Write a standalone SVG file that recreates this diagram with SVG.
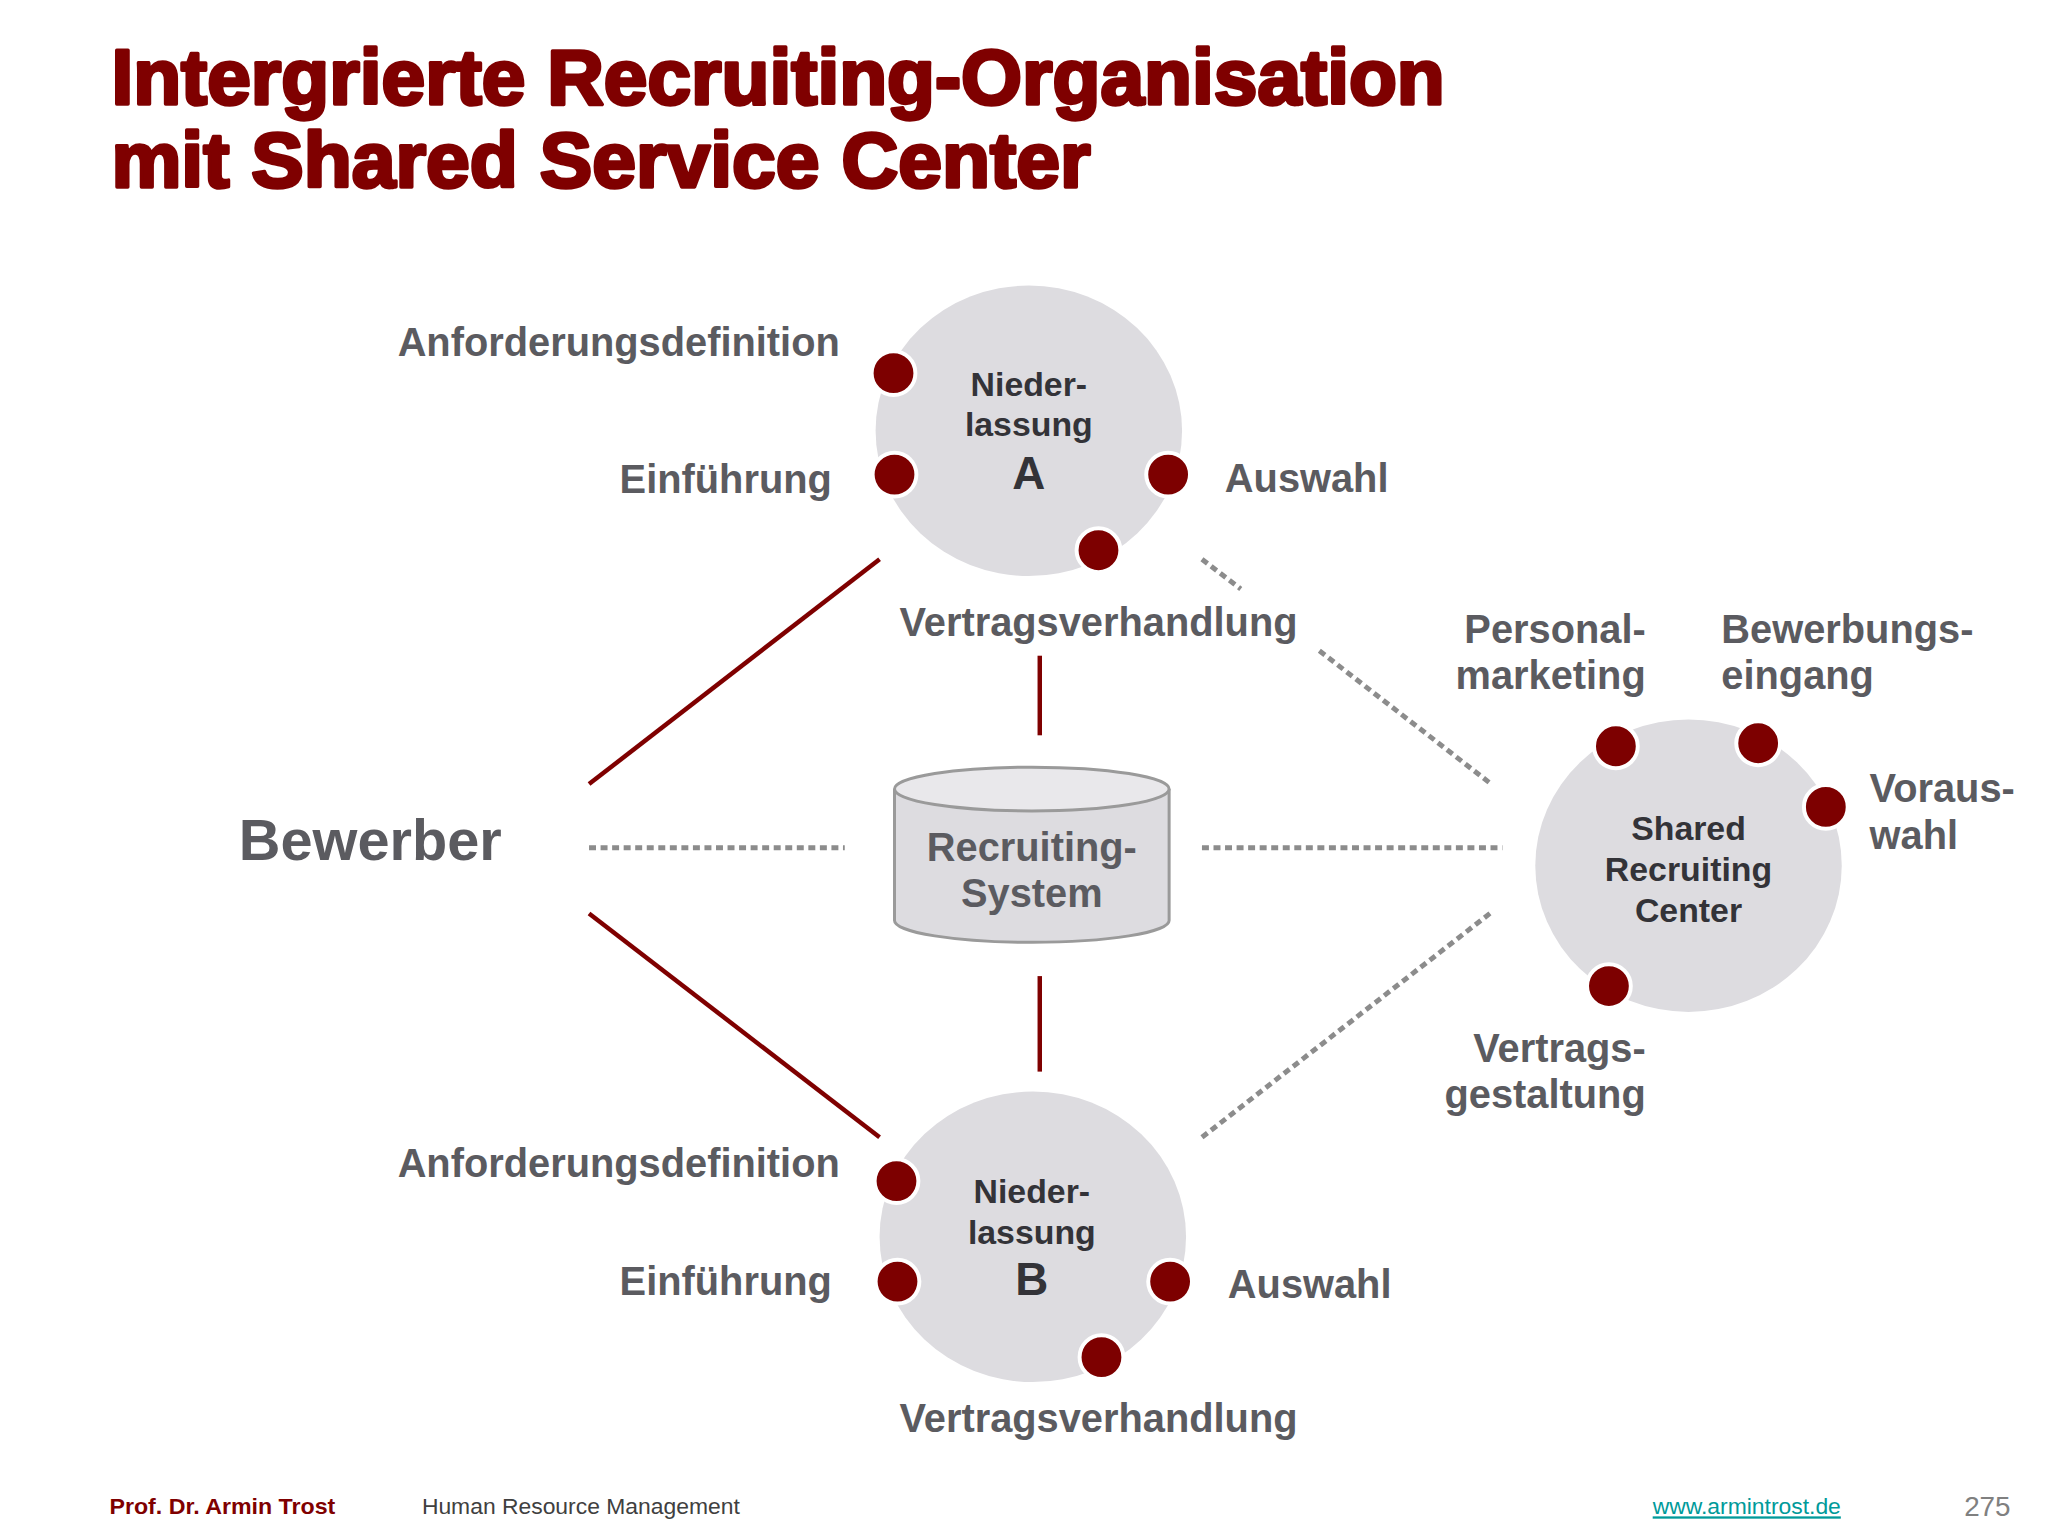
<svg xmlns="http://www.w3.org/2000/svg" width="2048" height="1536" viewBox="0 0 2048 1536">
<style>
.title{font-family:"Liberation Sans",Arial,sans-serif;font-weight:bold;font-size:79px;fill:#7f0000;stroke:#7f0000;stroke-width:3.5;stroke-linejoin:round}
.lbl{font-family:"Liberation Sans",Arial,sans-serif;font-weight:bold;font-size:40px;fill:#5b5b60}
.inner{font-family:"Liberation Sans",Arial,sans-serif;font-weight:bold;font-size:34px;fill:#333338;text-anchor:middle}
.big{font-size:46px}
.node{fill:#dddce0}
.dot{fill:#7d0000;stroke:#ffffff;stroke-width:4}
.solid{stroke:#7f0000;stroke-width:4.5;fill:none}
.dotted{stroke:#8c8c8c;stroke-width:5;stroke-dasharray:7 4.6;fill:none}
.foot{font-family:"Liberation Sans",Arial,sans-serif;font-size:23px}
</style>
<rect width="2048" height="1536" fill="#ffffff"/>
<g transform="scale(0.995)">
<g id="title">
<text class="title" x="112" y="105" textLength="1340" lengthAdjust="spacingAndGlyphs">Intergrierte Recruiting-Organisation</text>
<text class="title" x="112" y="188" textLength="984" lengthAdjust="spacingAndGlyphs">mit Shared Service Center</text>
</g>
<g id="connectors">
<line class="solid" x1="592" y1="788" x2="884" y2="562"/>
<line class="solid" x1="592" y1="918" x2="884" y2="1143"/>
<line class="solid" x1="1045" y1="659" x2="1045" y2="739"/>
<line class="solid" x1="1045" y1="981" x2="1045" y2="1077"/>
<line class="dotted" x1="592" y1="852" x2="849" y2="852"/>
<line class="dotted" x1="1208" y1="852" x2="1510" y2="852"/>
<line class="dotted" x1="1208" y1="562" x2="1247" y2="592"/>
<line class="dotted" x1="1326" y1="654" x2="1500" y2="789"/>
<line class="dotted" x1="1208" y1="1143" x2="1500" y2="916"/>
</g>
<g id="bewerber">
<text class="lbl" x="240" y="864" style="font-size:58px">Bewerber</text>
</g>
<g id="recruiting-system">
<path d="M899,793 L899,925 A138,22 0 0 0 1175,925 L1175,793" fill="#dddce0" stroke="#9a9a9a" stroke-width="3"/>
<ellipse cx="1037" cy="793" rx="138" ry="22" fill="#e9e8eb" stroke="#9a9a9a" stroke-width="3"/>
<text class="lbl" x="1037" y="865" text-anchor="middle">Recruiting-</text>
<text class="lbl" x="1037" y="912" text-anchor="middle">System</text>
</g>
<g id="niederlassung-a">
<ellipse class="node" cx="1034" cy="433" rx="154" ry="146"/>
<text class="inner" x="1034" y="398">Nieder-</text>
<text class="inner" x="1034" y="438">lassung</text>
<text class="inner big" x="1034" y="491">A</text>
<circle class="dot" cx="898" cy="375" r="22"/>
<circle class="dot" cx="899" cy="477" r="22"/>
<circle class="dot" cx="1174" cy="477" r="22"/>
<circle class="dot" cx="1104" cy="553" r="22"/>
<text class="lbl" x="844" y="358" text-anchor="end">Anforderungsdefinition</text>
<text class="lbl" x="836" y="495" text-anchor="end">Einführung</text>
<text class="lbl" x="1231" y="494">Auswahl</text>
<text class="lbl" x="1104" y="639" text-anchor="middle">Vertragsverhandlung</text>
</g>
<g id="niederlassung-b">
<ellipse class="node" cx="1038" cy="1243" rx="154" ry="146"/>
<text class="inner" x="1037" y="1209">Nieder-</text>
<text class="inner" x="1037" y="1250">lassung</text>
<text class="inner big" x="1037" y="1302">B</text>
<circle class="dot" cx="901" cy="1187" r="22"/>
<circle class="dot" cx="902" cy="1288" r="22"/>
<circle class="dot" cx="1176" cy="1288" r="22"/>
<circle class="dot" cx="1107" cy="1364" r="22"/>
<text class="lbl" x="844" y="1183" text-anchor="end">Anforderungsdefinition</text>
<text class="lbl" x="836" y="1302" text-anchor="end">Einführung</text>
<text class="lbl" x="1234" y="1305">Auswahl</text>
<text class="lbl" x="1104" y="1439" text-anchor="middle">Vertragsverhandlung</text>
</g>
<g id="shared-recruiting-center">
<ellipse class="node" cx="1697" cy="870" rx="154" ry="147"/>
<text class="inner" x="1697" y="844">Shared</text>
<text class="inner" x="1697" y="885">Recruiting</text>
<text class="inner" x="1697" y="927">Center</text>
<circle class="dot" cx="1624" cy="750" r="22"/>
<circle class="dot" cx="1767" cy="747" r="22"/>
<circle class="dot" cx="1835" cy="811" r="22"/>
<circle class="dot" cx="1617" cy="991" r="22"/>
<text class="lbl" x="1654" y="646" text-anchor="end">Personal-</text>
<text class="lbl" x="1654" y="692" text-anchor="end">marketing</text>
<text class="lbl" x="1730" y="646">Bewerbungs-</text>
<text class="lbl" x="1730" y="692">eingang</text>
<text class="lbl" x="1879" y="806">Voraus-</text>
<text class="lbl" x="1879" y="853">wahl</text>
<text class="lbl" x="1654" y="1067" text-anchor="end">Vertrags-</text>
<text class="lbl" x="1654" y="1114" text-anchor="end">gestaltung</text>
</g>
<g id="footer">
<text class="foot" x="110" y="1522" style="font-weight:bold;font-size:23px;fill:#7f0000" textLength="227" lengthAdjust="spacingAndGlyphs">Prof. Dr. Armin Trost</text>
<text class="foot" x="424" y="1522" fill="#404040">Human Resource Management</text>
<text class="foot" x="1661" y="1522" fill="#009a9a" text-decoration="underline">www.armintrost.de</text>
<text class="foot" x="1974" y="1524" style="font-size:28px;fill:#808080">275</text>
</g>
</g>
</svg>
